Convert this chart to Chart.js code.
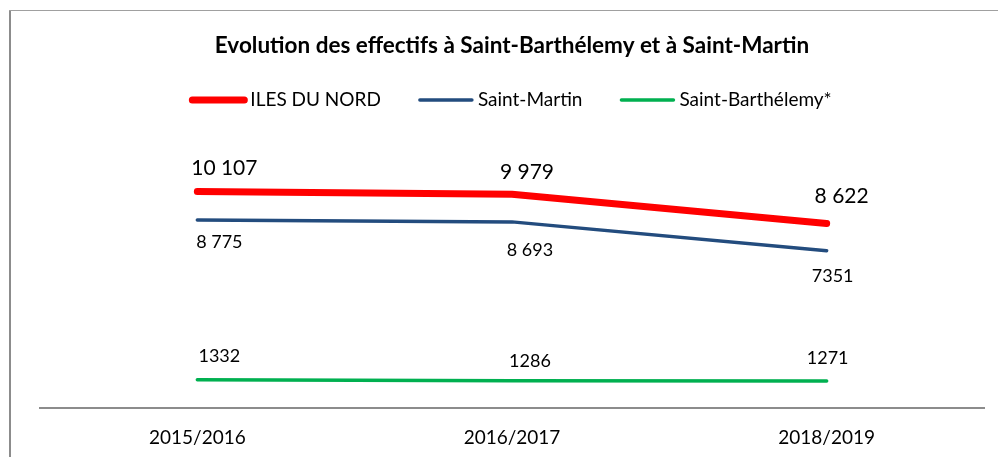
<!DOCTYPE html>
<html lang="fr">
<head>
<meta charset="utf-8">
<title>Evolution des effectifs</title>
<script src="https://cdn.jsdelivr.net/npm/chart.js@4/dist/chart.umd.min.js"></script>
<style>
  html, body { margin: 0; padding: 0; background: #fff; }
  #wrap { position: relative; width: 998px; height: 457px; }
</style>
</head>
<body>
<div id="wrap"><canvas id="myChart"></canvas></div>
<script>
const years = ["2015/2016", "2016/2017", "2018/2019"];
const seriesNames = ["ILES DU NORD", "Saint-Martin", "Saint-Barthélemy*"];
const ilesDuNord = [10107, 9979, 8622];
const saintMartin = [8775, 8693, 7351];
const saintBarth = [1332, 1286, 1271];
// value labels as printed on the original chart
const ilesLabels = ["10 107", "9 979", "8 622"];
const smLabels = ["8 775", "8 693", "7351"];
const sbLabels = ["1332", "1286", "1271"];

const FONT = "Lato, 'Open Sans', sans-serif";

// where each value label sits relative to its point, [dx, dy]
const labelPlacement = [
  { texts: ilesLabels, size: 21, offsets: [[27, -23], [15, -22], [15, -27]] },
  { texts: smLabels, size: 18, offsets: [[22, 22], [18, 28], [6, 26]] },
  { texts: sbLabels, size: 18, offsets: [[22, -23], [18, -19], [1, -23]] }
];

const extras = {
  id: "extras",
  beforeDraw(chart) {
    const ctx = chart.ctx;
    ctx.save();
    ctx.fillStyle = "#fff";
    ctx.fillRect(0, 0, chart.width, chart.height);
    // outer frame (only top and left edges are visible)
    ctx.fillStyle = "#8c8c8c";
    ctx.fillRect(9, 10, 2, chart.height - 10);
    ctx.fillStyle = "#a0a0a0";
    ctx.fillRect(9, 10, chart.width - 9, 1);
    ctx.restore();
  },
  afterDatasetsDraw(chart) {
    const ctx = chart.ctx;
    ctx.save();
    ctx.fillStyle = "#000";
    ctx.textAlign = "center";
    ctx.textBaseline = "middle";
    labelPlacement.forEach((lp, i) => {
      const meta = chart.getDatasetMeta(i);
      ctx.font = lp.size + "px " + FONT;
      meta.data.forEach((pt, j) => {
        ctx.fillText(lp.texts[j], pt.x + lp.offsets[j][0], pt.y + lp.offsets[j][1]);
      });
    });
    ctx.restore();
  },
  afterDraw(chart) {
    // legend: line sample + text, centred over the plot area
    const ctx = chart.ctx;
    const area = chart.chartArea;
    const sample = 52, gap = 6, itemGap = 39, y = 100;
    ctx.save();
    ctx.font = "19px " + FONT;
    const ds = chart.data.datasets;
    const widths = ds.map(d => ctx.measureText(d.label).width);
    let total = widths.reduce((a, w) => a + sample + gap + w, 0) + itemGap * (ds.length - 1);
    let x = (area.left + area.right) / 2 - total / 2;
    ds.forEach((d, i) => {
      ctx.strokeStyle = d.borderColor;
      ctx.lineWidth = d.borderWidth;
      ctx.lineCap = "round";
      ctx.beginPath();
      ctx.moveTo(x, y);
      ctx.lineTo(x + sample, y);
      ctx.stroke();
      ctx.fillStyle = "#000";
      ctx.textAlign = "left";
      ctx.textBaseline = "middle";
      ctx.fillText(d.label, x + sample + gap, y);
      x += sample + gap + widths[i] + itemGap;
    });
    ctx.restore();
  }
};

new Chart(document.getElementById("myChart"), {
  type: "line",
  data: {
    labels: years,
    datasets: [
      { label: seriesNames[0], data: ilesDuNord, borderColor: "#ff0000", borderWidth: 7 },
      { label: seriesNames[1], data: saintMartin, borderColor: "#234c7e", borderWidth: 3.5 },
      { label: seriesNames[2], data: saintBarth, borderColor: "#00b050", borderWidth: 3.5 }
    ].map(d => Object.assign(d, {
      pointRadius: 0,
      pointHoverRadius: 0,
      tension: 0,
      fill: false,
      borderCapStyle: "round",
      borderJoinStyle: "round"
    }))
  },
  options: {
    responsive: true,
    maintainAspectRatio: false,
    animation: false,
    devicePixelRatio: 1,
    layout: { padding: { left: 40, right: 14, top: 0, bottom: -10 } },
    plugins: {
      legend: { display: false },
      tooltip: { enabled: false },
      title: {
        display: true,
        text: "Evolution des effectifs à Saint-Barthélemy et à Saint-Martin",
        color: "#000",
        font: { family: FONT, size: 22.5, weight: "bold" },
        padding: { top: 32, bottom: 92 }
      }
    },
    scales: {
      x: {
        offset: true,
        grid: { display: false, drawTicks: false },
        border: { display: true, color: "#8c8c8c", width: 2 },
        ticks: { color: "#000", padding: 18, font: { family: FONT, size: 19 } }
      },
      y: {
        display: false,
        min: 0,
        max: 12000
      }
    }
  },
  plugins: [extras]
});
</script>
</body>
</html>
